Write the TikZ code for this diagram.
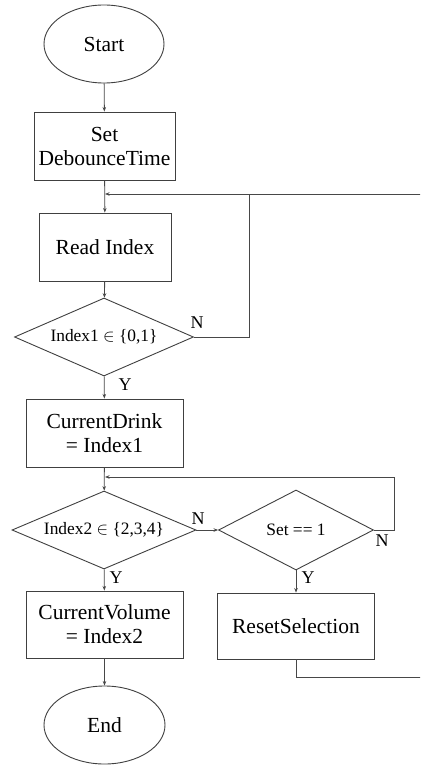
\documentclass[tikz,border=0pt]{standalone}
\usepackage{fontspec}
\setmainfont{Liberation Serif}
\usetikzlibrary{shapes.geometric,arrows.meta}
\begin{document}
\begin{tikzpicture}[x=1pt,y=-1pt,
  line/.style={draw=black!72,line width=0.9pt},
  arr/.style={line,-{Stealth[length=4.5pt,width=3.5pt]}},
  boxnode/.style={rectangle,draw=black!75,line width=0.9pt,inner sep=0pt,align=center,font=\fontsize{21.5}{24}\selectfont},
  termnode/.style={ellipse,draw=black!75,line width=0.9pt,inner sep=0pt,font=\fontsize{21.5}{24}\selectfont},
  decnode/.style={diamond,draw=black!75,line width=0.9pt,inner sep=0pt,shape aspect=2.3,font=\fontsize{17.4}{20}\selectfont},
  lbl/.style={inner sep=0pt,font=\fontsize{18}{20}\selectfont}]
\useasboundingbox (0,0) rectangle (420,765);
\clip (0,0) rectangle (420,765);
\fill[white] (0,0) rectangle (420,765);
\node[termnode,minimum width=120pt,minimum height=78pt] (start) at (104,44) {Start};
\node[boxnode,minimum width=141pt,minimum height=68pt] (setdb) at (104.5,146) {Set\\DebounceTime};
\node[boxnode,minimum width=132pt,minimum height=68pt] (read) at (105,247) {Read Index};
\node[decnode,minimum width=179pt,minimum height=78pt] (d1) at (104,337) {Index1 $\in$ \{0,1\}};
\node[boxnode,minimum width=157pt,minimum height=68pt] (drink) at (104.5,433) {CurrentDrink\\= Index1};
\node[decnode,minimum width=184pt,minimum height=78pt] (d2) at (104,530) {Index2 $\in$ \{2,3,4\}};
\node[decnode,minimum width=155pt,minimum height=80pt] (ds) at (296,530) {Set == 1};
\node[boxnode,minimum width=157pt,minimum height=67pt] (vol) at (104.5,624.5) {CurrentVolume\\= Index2};
\node[boxnode,minimum width=157pt,minimum height=66pt] (reset) at (296,626) {ResetSelection};
\node[termnode,minimum width=121pt,minimum height=78pt] (end) at (104.5,725) {End};
% labels
\node[lbl] (y1) at (125,385) {Y};
\node[lbl] (n1) at (197,323) {N};
\node[lbl] (n2) at (198,519) {N};
\node[lbl] (y2) at (116,578) {Y};
\node[lbl] (y3) at (308,578) {Y};
\node[lbl] (n3) at (382,541) {N};
% coordinates
\coordinate (j1) at (105,194);
\coordinate (j2) at (105,477);
\coordinate (n1r) at (249,337);
\coordinate (n1t) at (249,194);
\coordinate (far1) at (430,194);
\coordinate (far2) at (430,677);
\coordinate (rb) at (296,677);
\coordinate (n3r) at (394,530);
\coordinate (n3t) at (394,477);
% connectors
\draw[arr] (start) -- (setdb);
\draw[arr] (setdb) -- (read);
\draw[arr] (read) -- (d1);
\draw[arr] (d1) -- (drink);
\draw[arr] (drink) -- (d2);
\draw[arr] (d2) -- (vol);
\draw[arr] (vol) -- (end);
\draw[arr] (d2.east) -- (ds.west);
\draw[arr] (ds) -- (reset);
\draw[line] (d1.east) -- (n1r) -- (n1t);
\draw[arr] (reset.south) -- (rb) -- (far2) -- (far1) -- (j1);
\draw[arr] (ds.east) -- (n3r) -- (n3t) -- (j2);
\end{tikzpicture}
\end{document}
